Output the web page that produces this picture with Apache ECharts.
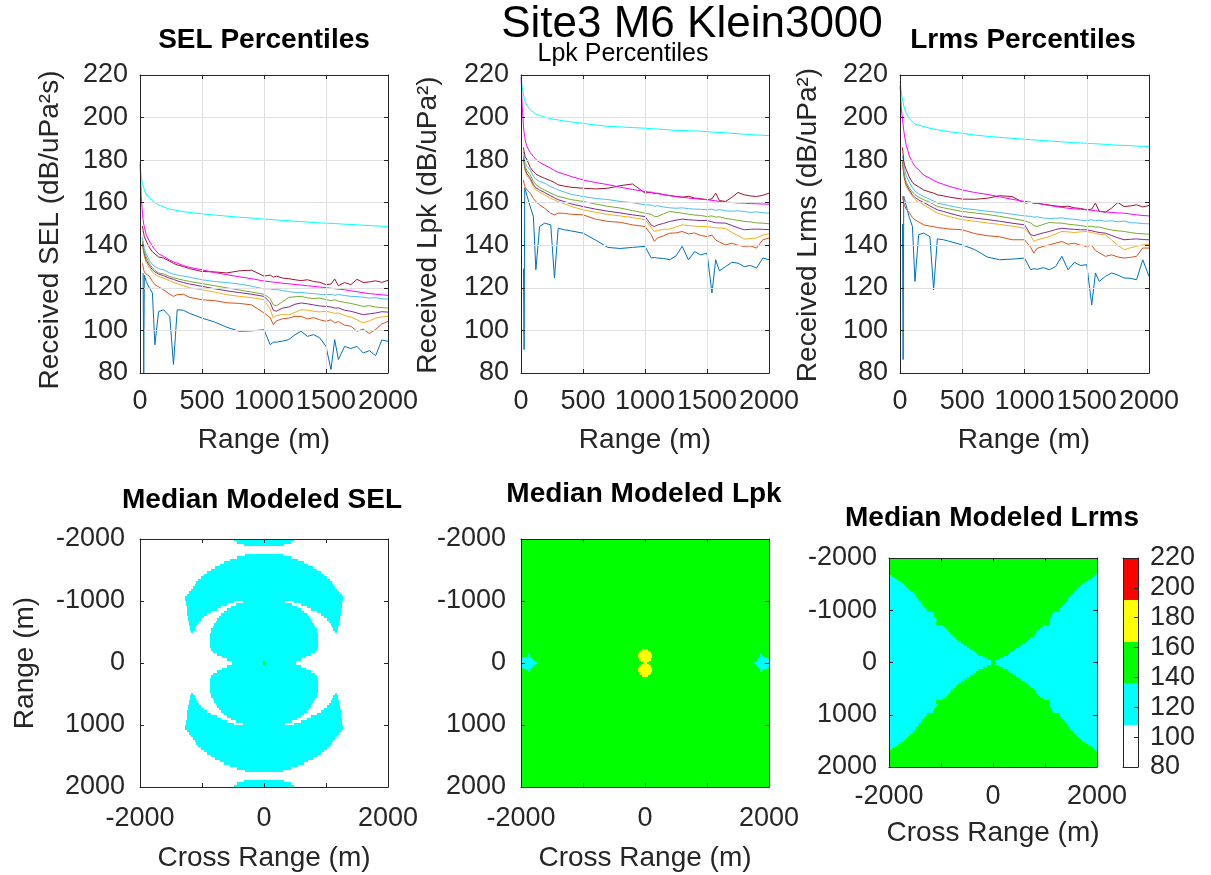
<!DOCTYPE html>
<html><head><meta charset="utf-8">
<script src="https://cdn.jsdelivr.net/npm/echarts@6/dist/echarts.min.js"></script>
<style>html,body{margin:0;padding:0;background:#fff}#c{width:1211px;height:875px}</style>
</head><body><div id="c"></div>
<script>
// ---------------- DATA ----------------
const RANGE = [1,10,20,25,30,35,50,75,100,120,150,190,240,270,300,350,400,500,600,700,800,900,1000,1050,1075,1100,1150,1200,1250,1300,1350,1400,1450,1500,1540,1570,1600,1650,1700,1750,1800,1850,1900,1950,2000];
const n = null;
// SEL percentiles (dB re 1 uPa^2 s)
const SEL_BLUE = [n,n,n,127,80,126,123,120,117.6,93.3,108.9,109.7,106.6,84,109.7,109.5,108,105.8,104,101.5,99.6,99.8,100.3,93.3,94.5,94.5,95,95.7,98,99.6,97.2,98,96.5,92.5,81.6,95.7,86.3,92.5,91.5,92.5,89.4,90.5,88.1,95.5,94.9];
const SEL_ORANGE = [n,n,131.5,130,128.5,127.5,126.5,125.5,123,121.5,120.5,119.1,117,116,116.8,117,115.5,114.4,114,113,112.7,112,108.2,106,102.7,104.5,105.5,105.8,106.6,106.6,105.4,106,105,104.3,105,103.5,104.2,102.5,102,99.6,100.6,98.5,100.5,103,104.3];
const SEL_YELLOW = [n,n,140,138,136,134.5,132,129.5,127.5,126.3,125.4,124.6,123.3,122.6,122,121,120,119.1,118,116.8,116,115.4,114.4,110,105.8,107,107.5,107.3,108.5,109.7,109.5,109,108.7,109,108.5,108,108.2,107,106.3,105,103.5,104.5,105.8,106.3,106.6];
const SEL_PURPLE = [n,n,141,139,137.5,136,133,130.5,128.5,127.5,126.5,125.7,124.5,124,123.3,122.5,121.8,120.7,119.6,118.6,117.8,117,116,113,109.5,109,110.5,111,112.3,112.9,112.5,112,111.5,111.3,111,110.5,110.6,109.5,109,108.2,107.4,107.8,108.2,108.8,108.6];
const SEL_GREEN = [n,n,142,140,138.5,137,134.5,131.5,129.5,128.3,127,126.5,125.3,124.8,124.3,123.6,123,122,121,120,119,118,117,115,112,111.6,113.5,115.5,115.8,116,115.3,115,115.2,114.5,114,114.4,113.7,113.2,112.7,112,111.3,111.6,111,110.7,110.5];
const SEL_LIGHTBLUE = [n,n,144,142,140,138.5,136,133,131,130,129,128.5,127,126.5,126,125.5,125,123.8,123,122.5,121.8,120.8,119.5,119.6,119.1,119.3,118.7,118.3,117.8,117.9,117.5,117.3,117,116.8,117,116.5,116.9,116.4,116,115.9,115.6,115.2,115.4,114.9,114.7];
const SEL_DARKRED = [n,n,149,147,145.5,144,142,139,137,136,134.5,134,132.5,131.5,130.8,130,129,127.7,127.5,127,128,128.3,125.5,126,125,125.5,124.6,124.3,123.8,123.4,123.8,123,122.6,121.5,121.8,124.2,121,122.5,121.5,124,122.5,122.8,123.3,122.6,123.5];
const SEL_MAGENTA = [178,163,155,152,150,148.5,145,142,139.5,138,136,134.8,133,132.2,131.6,130.5,129.6,128.5,127.2,126.2,125.2,124.3,123.2,122.9,122.7,122.5,122.2,121.9,121.6,121.3,121,120.7,120.4,120.1,119.8,119.6,119.4,119.1,118.6,118.2,117.7,117.3,117,116.7,116.5];
const SEL_CYAN = [179,172,169,168,167,166,164,162.5,161,160,159,158,157,156.7,156.3,155.8,155.4,154.8,154.2,153.7,153.2,152.8,152.3,152.1,152,151.9,151.7,151.5,151.3,151.1,150.9,150.7,150.5,150.4,150.3,150.2,150.1,149.9,149.8,149.6,149.4,149.3,149.1,149.0,148.8];
// Lpk percentiles
const LPK_BLUE = [n,n,129,91,167,166,163,158,153.5,128.5,148.8,150.4,149.6,124.6,148,147.3,146.8,145.7,142.5,139,138.5,139,139.5,134,134.3,134,133.8,133.2,135,139.5,133.2,137,135.5,136.3,117.6,133.2,128,130,132,131.6,130,130.5,129.3,134,133.2];
const LPK_ORANGE = [n,n,170.7,169,168,167,166,164.5,162,160.5,159,157.4,155,154.3,155.1,155,154.6,154.3,152.3,151.2,150.8,149.6,148.8,145,141.8,143.5,144.5,145.7,145.8,146.5,145.3,145.8,144.6,144.1,144.8,142.5,141.5,140.2,141,140,139.5,139.7,138.7,142.6,143.4];
const LPK_YELLOW = [n,n,180,178,176,174.5,172.5,170.7,167.5,166,165,163.7,162,161.3,160.6,159.5,158.3,156.7,155.5,154.5,153.8,153,152,148.5,146.5,147,147.5,147.6,148.6,149.6,149.3,149,148.8,148.8,148.4,148.2,148.1,148,146,144.5,142.9,143.2,143.4,144.8,145.4];
const LPK_PURPLE = [n,n,181,179,177,175.5,173.5,171.5,168.5,167,166,164.8,163.2,162.3,161.4,160.5,159.5,158.2,157,156,155.2,154.3,153.5,149.5,148.8,149.5,150.3,151.2,151.8,152.3,152,151.8,151.6,151.7,151,150.6,150.5,150.4,149.3,148.2,147.3,147.5,147.6,147.5,147.3];
const LPK_GREEN = [n,n,182,180,178,176.5,175,173,170,168.5,167.2,166,164.5,163.7,162.9,162.3,161.5,160.6,159.4,158.3,157.5,156.3,155.1,154.5,153.6,153.5,154.8,155.9,155.5,155.1,154.6,154.2,154,153.5,153.8,153.2,153.4,152.6,152.2,151.7,151.2,151,150.5,150.4,150.1];
const LPK_LIGHTBLUE = [n,n,184,182,180,178.5,177,175.4,172.5,171,170,169.2,167.5,166.8,166,165,164,162.9,162,161.5,160.6,160,159,158.9,158.3,158.6,158,157.6,157.4,157.6,157.2,157,156.9,156.7,157,156.4,156.8,156.2,156,156.2,155.9,155.4,155.7,155.3,155.1];
const LPK_DARKRED = [n,n,186,184,182.5,181.5,180,176.5,174.6,173.5,172.5,171.5,170.3,169.5,168.4,167.8,167.3,166.8,166.5,166.8,168,168.8,164.5,165,164.2,164.5,163.7,163.4,162.9,162.6,163,162.2,161.9,161.4,161.8,164.5,161,160.6,162.5,164.8,163.7,163.2,162.9,163.5,164.5];
const LPK_MAGENTA = [219,205,196,193,191,189,186.2,183.5,181.7,180.3,179,177.7,176.2,175.2,174.3,173.4,172.4,170.7,169.5,168.5,167.3,166.2,165.3,164.8,164.6,164.3,163.8,163.3,162.9,162.6,162.2,161.9,161.6,161.4,161.1,160.9,160.6,160.3,160.1,159.9,159.8,159.6,159.5,159.4,159.3];
const LPK_CYAN = [219,214,211,209.5,208,207.5,205.5,203.6,202.5,201.7,201,200.3,199.5,199.1,198.9,198.4,198,197.3,196.5,195.9,195.6,195.3,195,194.8,194.7,194.6,194.4,194.2,194,193.9,193.8,193.7,193.6,193.4,193.2,193.1,193,192.8,192.6,192.4,192.2,192,191.8,191.7,191.5];
// Lrms percentiles
const LRMS_BLUE = [n,n,150,86.3,163,162,158.5,153,148.8,123,145,145.7,144.1,119.1,143,142.6,141.8,140.2,138,134.5,133.2,133.5,134,128.5,129,128.7,129.5,128.5,130,134.8,128.5,132,130.5,130.9,112,127,123,125.4,127,126,124.6,124.5,123.8,133.2,125.4];
const LRMS_ORANGE = [n,n,163,161.4,160,159,157,155.3,153,152,151,149.6,149,148.8,148.3,148,147.6,147.3,145.5,144.5,144,142.6,142.6,139,136.3,138.5,139.5,140.2,141,141.8,140.5,141,140,139.5,140,137.5,136.5,134.8,135.5,134.5,134,134.3,134.8,138.7,138.7];
const LRMS_YELLOW = [n,n,178,175.5,173,171,167.5,165.3,163,161.5,160.3,159,157.3,156.2,155.1,154.2,153.4,152,151.3,150.5,149.8,149,148,144.5,141.8,142.5,143.3,144.1,145.3,146.5,146.3,146,146.3,146.5,146,145.5,145.2,144.9,142.5,140,137.9,138.8,139.5,140.2,140.5];
const LRMS_PURPLE = [n,n,179,176.5,174,172,168.5,166,163.7,162.5,161.3,160.1,158.5,157.6,156.7,155.9,155,153.5,152.8,152.1,151.3,150.4,149.6,145,144.5,145,145.8,146.5,147.4,148,147.7,147.5,147.3,147.3,146.8,146.4,146,145.7,144.6,143.5,142.6,142.8,143,142.7,142.6];
const LRMS_GREEN = [n,n,180,177.5,175,173,169.5,167,165,163.8,162.6,161.4,160.2,159.2,158.2,157.6,157,155.9,155.2,154.5,153.6,152.6,151.5,150.5,149.3,148.8,149.8,150.7,150.5,150.4,149.9,149.6,149.3,148.8,149,148.5,148.6,147.8,147.2,146.8,146.5,146,145.6,145.4,145.2];
const LRMS_LIGHTBLUE = [n,n,182,180,178,176,172.5,169.6,167,165.5,164.2,162.9,161.6,160.8,159.8,159.2,158.5,157.4,156.7,156,155.4,154.6,153.8,153.6,153.2,153.4,152.8,152.6,152.7,152.9,152.4,152.2,151.8,151.6,152,151.5,151.8,151.3,151.5,151,151.4,150.6,150.5,150.2,150.1];
const LRMS_DARKRED = [n,n,186,183,180,178,175.5,172,169.5,168.5,167.5,166,165,164.5,163.7,163.2,162.6,161.7,161.6,162.1,163.3,162.9,159.8,160.2,159.7,159.9,159.3,158.9,158.5,158.1,158.4,157.6,157.3,156.7,157,159.8,156,155.5,157.5,160.1,158.2,158.5,159,158,158.7];
const LRMS_MAGENTA = [215,205,199,196.5,194,192,187,182,179,177,175.5,173,171.5,170.5,169.6,168.6,167.6,166,164.8,163.9,162.8,161.6,160.6,160.2,160,159.7,159.2,158.7,158.2,157.8,157.4,157.1,156.9,156.7,156.4,156.2,156,155.7,155.4,155.2,155.1,154.7,154.3,154,153.8];
const LRMS_CYAN = [217,212,208.5,207,205.5,204.5,202,199.5,198,197,196.5,195.8,195,194.6,194.3,193.8,193.3,192.6,191.8,191.2,190.7,190.3,189.8,189.6,189.5,189.4,189.2,189,188.8,188.6,188.4,188.2,188.1,187.9,187.8,187.7,187.6,187.4,187.2,187,186.9,186.8,186.6,186.5,186.4];

// Modeled median maps: rows at |range| (m), intervals in |cross range| (m), with a dB level
const SEL_MAP_BASE = 95;
const SEL_MAP_CYAN = [
 [20,[[0,510]]],[60,[[0,600]]],[100,[[0,680]]],[140,[[0,760]]],[180,[[0,815]]],[220,[[0,850]]],
 [260,[[0,865]]],[300,[[0,872]]],[340,[[0,875]]],[380,[[0,875]]],[420,[[0,872]]],[460,[[0,868]]],
 [500,[[0,862],[1140,1175]]],[540,[[0,850],[1120,1190]]],[580,[[0,830],[1100,1200]]],
 [620,[[0,805],[1085,1210]]],[660,[[0,780],[1050,1215]]],[700,[[0,755],[1010,1220]]],
 [740,[[0,725],[965,1225]]],[780,[[0,690],[925,1235]]],[820,[[0,650],[850,1240]]],
 [860,[[0,600],[765,1245]]],[900,[[0,530],[690,1250]]],[940,[[0,445],[600,1255]]],
 [980,[[0,335],[480,1265]]],[1020,[[0,1270]]],[1060,[[0,1272]]],[1100,[[0,1250]]],
 [1140,[[0,1210]]],[1180,[[0,1180]]],[1220,[[0,1150]]],[1260,[[0,1120]]],[1300,[[0,1095]]],
 [1340,[[0,1060]]],[1380,[[0,1020]]],[1420,[[0,970]]],[1460,[[0,915]]],[1500,[[0,850]]],
 [1540,[[0,790]]],[1580,[[0,715]]],[1620,[[0,640]]],[1660,[[0,550]]],[1700,[[0,440]]],
 [1740,[[0,300]]],[1900,[[0,330]]],[1940,[[0,430]]],[1980,[[0,490]]]
];
const SEL_MAP_CYAN_LEVEL = 122;
const SEL_MAP_GREEN = [[20,[[0,12]]]];
const SEL_MAP_GREEN_LEVEL = 150;

const LPK_MAP_BASE = 150;
const LPK_MAP_YELLOW = [[10,[[0,33]]],[30,[[0,70]]],[50,[[0,89]]],[70,[[0,100]]],[90,[[0,107]]],[110,[[0,110]]],
 [130,[[0,109]]],[150,[[0,104]]],[170,[[0,95]]],[190,[[0,80]]],[210,[[0,55]]]];
const LPK_MAP_YELLOW_LEVEL = 175;
const LPK_MAP_CYAN = [[10,[[1750,2000]]],[30,[[1770,2000]]],[50,[[1800,2000]]],[70,[[1820,1990]]],[90,[[1840,1960]]],[110,[[1850,1900]]],[130,[[1860,1880]]]];
const LPK_MAP_CYAN_LEVEL = 130;

const LRMS_MAP_BASE = 125;
const LRMS_MAP_GREEN = [
 [20,[[0,40]]],[60,[[0,120]]],[100,[[0,200]]],[140,[[0,280]]],[180,[[0,335]]],[220,[[0,390]]],
 [260,[[0,445]]],[300,[[0,500]]],[340,[[0,550]]],[380,[[0,610]]],[420,[[0,670]]],[460,[[0,720]]],
 [500,[[0,770]]],[540,[[0,800]]],[580,[[0,830]]],[620,[[0,870]]],[660,[[0,900]]],[700,[[0,960]]],
 [740,[[0,1100]]],[780,[[0,1090]]],[820,[[0,1080]]],[860,[[0,1100]]],[900,[[0,1130]]],[940,[[0,1150]]],
 [980,[[0,1270]]],[1020,[[0,1290]]],[1060,[[0,1330]]],[1100,[[0,1370]]],[1140,[[0,1390]]],[1180,[[0,1420]]],
 [1220,[[0,1450]]],[1260,[[0,1480]]],[1300,[[0,1500]]],[1340,[[0,1540]]],[1380,[[0,1590]]],[1420,[[0,1630]]],
 [1460,[[0,1680]]],[1500,[[0,1720]]],[1540,[[0,1770]]],[1580,[[0,1820]]],[1620,[[0,1880]]],[1660,[[0,1940]]],
 [1700,[[0,1990]]],[1740,[[0,2000]]],[1780,[[0,2000]]],[1820,[[0,2000]]],[1860,[[0,2000]]],[1900,[[0,2000]]],
 [1940,[[0,2000]]],[1980,[[0,2000]]]
];
const LRMS_MAP_GREEN_LEVEL = 150;

const CBAR_EDGES = [80,108,136,164,192,220];
const CBAR_COLORS = ['#ffffff','#00ffff','#00ff00','#ffff00','#ff0000'];
const LINE_COLORS = ['#0072BD','#D95319','#EDB120','#7E2F8E','#77AC30','#4DBEEE','#A2142F','#FF00FF','#00FFFF'];

// ---------------- BUILD ----------------
const FONT = '"Liberation Sans", Arial, Helvetica, sans-serif';
const TXT = '#262626';

function colorOf(v){
  for (let i=0;i<CBAR_COLORS.length;i++){ if (v < CBAR_EDGES[i+1]) return CBAR_COLORS[i]; }
  return CBAR_COLORS[CBAR_COLORS.length-1];
}
function buildMap(base, layers){
  const items = [[-2000,2000,-2000,2000,base]];
  layers.forEach(([rows, level, rowH]) => {
    rows.forEach(([ay, ivs]) => {
      [-1,1].forEach(s => {
        const y0 = s*ay - rowH/2, y1 = s*ay + rowH/2;
        ivs.forEach(([a,b]) => {
          if (a === 0) items.push([-b,b,y0,y1,level]);
          else { items.push([-b,-a,y0,y1,level]); items.push([a,b,y0,y1,level]); }
        });
      });
    });
  });
  return items;
}
function renderCells(params, api){
  const a = api.coord([api.value(0), api.value(2)]);
  const b = api.coord([api.value(1), api.value(3)]);
  const x0 = Math.round(Math.min(a[0],b[0])), x1 = Math.round(Math.max(a[0],b[0]));
  const y0 = Math.round(Math.min(a[1],b[1])), y1 = Math.round(Math.max(a[1],b[1]));
  return {type:'rect', shape:{x:x0,y:y0,width:Math.max(1,x1-x0),height:Math.max(1,y1-y0)}, style:{fill:colorOf(api.value(4))}};
}

const grids = [
  {left:140, top:75, width:248, height:298},
  {left:521, top:75, width:248, height:298},
  {left:900, top:75, width:249, height:298},
  {left:140, top:539, width:248, height:248},
  {left:521, top:539, width:248, height:248},
  {left:889, top:558, width:208, height:209},
  {left:1123, top:558, width:15, height:209}
];
const xAxes = [], yAxes = [];
const lineBase = {show:true, onZero:false, lineStyle:{color:TXT, width:1}};
const plainFmt = v => String(v);
function addBox(g, xo, yo){
  const common = {gridIndex:g, z:10, axisLine:lineBase};
  xAxes.push(Object.assign({}, common, {type:'value', position:'bottom',
    axisTick:{show:xo.ticks!==false, inside:true, length:4, lineStyle:{color:TXT}},
    axisLabel:{show:xo.labels!==false, color:TXT, fontSize:27, fontFamily:FONT, margin:xo.margin||15,
      formatter:xo.fmt||plainFmt, showMinLabel:true, showMaxLabel:true, hideOverlap:false},
    splitLine:{show:!!xo.grid, lineStyle:{color:'#dfdfdf'}}}, xo.scale));
  xAxes.push(Object.assign({}, common, {type:'value', position:'top',
    axisTick:{show:xo.ticks!==false, inside:true, length:4, lineStyle:{color:TXT}},
    axisLabel:{show:false}, splitLine:{show:false}}, xo.scale));
  yAxes.push(Object.assign({}, common, {type:'value', position:yo.pos||'left', inverse:!!yo.inverse,
    axisTick:{show:true, inside:true, length:4, lineStyle:{color:TXT}},
    axisLabel:{show:true, color:TXT, fontSize:27, fontFamily:FONT, margin:yo.margin||12,
      formatter:plainFmt, showMinLabel:true, showMaxLabel:true, hideOverlap:false},
    splitLine:{show:!!yo.grid, lineStyle:{color:'#dfdfdf'}}}, yo.scale));
  yAxes.push(Object.assign({}, common, {type:'value', position:yo.pos==='right'?'left':'right', inverse:!!yo.inverse,
    axisTick:{show:yo.pos!=='right', inside:true, length:4, lineStyle:{color:TXT}},
    axisLabel:{show:false}, splitLine:{show:false}}, yo.scale));
}
const rangeScale = {min:0, max:2000, interval:500};
const dbScale = {min:80, max:220, interval:20};
const mapScale = {min:-2000, max:2000, interval:1000};
const mapFmt = v => (v % 2000 === 0 ? String(v) : '');
for (let g=0; g<3; g++) addBox(g, {scale:rangeScale, grid:true, margin:15}, {scale:dbScale, grid:true, margin:12});
addBox(3, {scale:mapScale, fmt:mapFmt, margin:18}, {scale:mapScale, inverse:true, margin:15});
addBox(4, {scale:mapScale, fmt:mapFmt, margin:18}, {scale:mapScale, inverse:true, margin:15});
addBox(5, {scale:mapScale, fmt:mapFmt, margin:16}, {scale:mapScale, inverse:true, margin:12});
addBox(6, {scale:{min:0,max:1,interval:1}, labels:false, ticks:false}, {scale:dbScale, pos:'right', margin:12});

const series = [];
const panels = [
  [SEL_BLUE,SEL_ORANGE,SEL_YELLOW,SEL_PURPLE,SEL_GREEN,SEL_LIGHTBLUE,SEL_DARKRED,SEL_MAGENTA,SEL_CYAN],
  [LPK_BLUE,LPK_ORANGE,LPK_YELLOW,LPK_PURPLE,LPK_GREEN,LPK_LIGHTBLUE,LPK_DARKRED,LPK_MAGENTA,LPK_CYAN],
  [LRMS_BLUE,LRMS_ORANGE,LRMS_YELLOW,LRMS_PURPLE,LRMS_GREEN,LRMS_LIGHTBLUE,LRMS_DARKRED,LRMS_MAGENTA,LRMS_CYAN]
];
panels.forEach((arrs, g) => {
  arrs.forEach((vals, k) => {
    series.push({type:'line', xAxisIndex:2*g, yAxisIndex:2*g, symbol:'none', clip:true,
      lineStyle:{color:LINE_COLORS[k], width:1}, itemStyle:{color:LINE_COLORS[k]},
      data: RANGE.map((r,i)=>[r, vals[i]]).filter(d => d[1] !== null)});
  });
});
const maps = [
  buildMap(SEL_MAP_BASE, [[SEL_MAP_CYAN, SEL_MAP_CYAN_LEVEL, 40],[SEL_MAP_GREEN, SEL_MAP_GREEN_LEVEL, 40]]),
  buildMap(LPK_MAP_BASE, [[LPK_MAP_CYAN, LPK_MAP_CYAN_LEVEL, 20],[LPK_MAP_YELLOW, LPK_MAP_YELLOW_LEVEL, 20]]),
  buildMap(LRMS_MAP_BASE, [[LRMS_MAP_GREEN, LRMS_MAP_GREEN_LEVEL, 40]])
];
maps.forEach((items, k) => {
  const g = 3 + k;
  series.push({type:'custom', xAxisIndex:2*g, yAxisIndex:2*g, clip:true, renderItem:renderCells,
    encode:{x:[0,1], y:[2,3]}, data:items});
});
const cbarItems = CBAR_COLORS.map((c,i)=>[0,1,CBAR_EDGES[i],CBAR_EDGES[i+1],(CBAR_EDGES[i]+CBAR_EDGES[i+1])/2]);
series.push({type:'custom', xAxisIndex:12, yAxisIndex:12, clip:true, renderItem:renderCells,
  encode:{x:[0,1], y:[2,3]}, data:cbarItems});

function txt(s, x, y, size, opts){
  opts = opts || {};
  return {type:'text', x:x, y:y, rotation:opts.rot||0, z:100,
    style:{text:s, font:(opts.bold?'bold ':'')+size+'px '+FONT, fill:opts.color||TXT, align:'center', verticalAlign:'middle'}};
}
const R90 = Math.PI/2;
const graphics = [
  txt('Site3 M6 Klein3000', 692, 25, 44, {color:'#000'}),
  txt('SEL Percentiles', 264, 40, 28, {bold:true, color:'#000'}),
  txt('Lpk Percentiles', 623, 54, 25, {color:'#000'}),
  txt('Lrms Percentiles', 1023, 40, 28, {bold:true, color:'#000'}),
  txt('Median Modeled SEL', 262, 500, 28, {bold:true, color:'#000'}),
  txt('Median Modeled Lpk', 644, 494, 28, {bold:true, color:'#000'}),
  txt('Median Modeled Lrms', 992, 518, 28, {bold:true, color:'#000'}),
  txt('Range (m)', 264, 440, 28), txt('Range (m)', 645, 440, 28), txt('Range (m)', 1024, 440, 28),
  txt('Received SEL (dB/uPa²s)', 50, 230, 28, {rot:R90}),
  txt('Received Lpk (dB/uPa²)', 428, 225, 28, {rot:R90}),
  txt('Received Lrms (dB/uPa²)', 808, 225, 28, {rot:R90}),
  txt('Range (m)', 25, 663, 28, {rot:R90}),
  txt('Cross Range (m)', 264, 858, 28), txt('Cross Range (m)', 645, 858, 28), txt('Cross Range (m)', 993, 833, 28)
];

const chart = echarts.init(document.getElementById('c'), null, {renderer:'canvas'});
chart.setOption({
  animation:false, backgroundColor:'#ffffff',
  textStyle:{fontFamily:FONT},
  grid:grids, xAxis:xAxes, yAxis:yAxes, series:series, graphic:graphics
});
</script></body></html>
